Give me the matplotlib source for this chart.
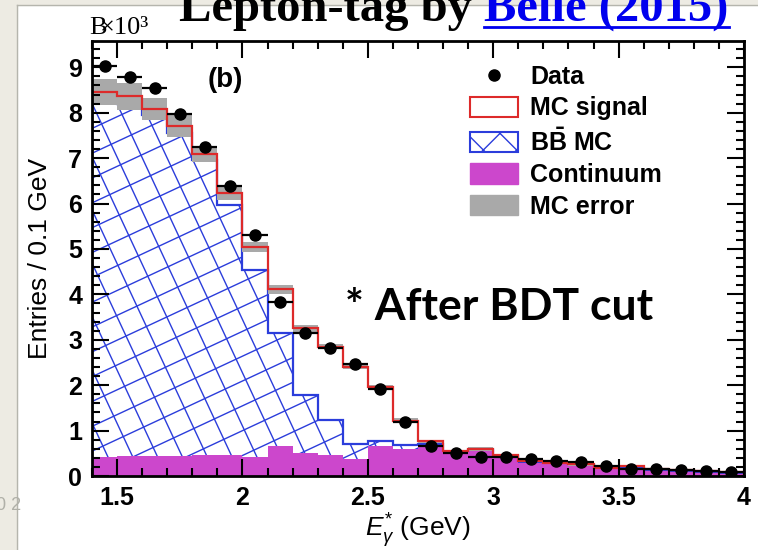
import numpy as np
import matplotlib
matplotlib.use('Agg')
import matplotlib.pyplot as plt
from matplotlib.patches import Patch, Rectangle
from matplotlib.lines import Line2D
from matplotlib.collections import LineCollection
from matplotlib.ticker import MultipleLocator, FuncFormatter

plt.rcParams['font.family'] = ['Liberation Sans', 'DejaVu Sans']
plt.rcParams['mathtext.fontset'] = 'custom'
plt.rcParams['mathtext.rm'] = 'Liberation Sans'
plt.rcParams['mathtext.it'] = 'Liberation Sans:italic'
plt.rcParams['mathtext.bf'] = 'Liberation Sans:bold'

# bin edges of E*_gamma (GeV), 0.1 GeV bins
edges = np.array([1.4, 1.5, 1.6, 1.7, 1.8, 1.9, 2.0, 2.1, 2.2, 2.3, 2.4, 2.5, 2.6, 2.7,
                  2.8, 2.9, 3.0, 3.1, 3.2, 3.3, 3.4, 3.5, 3.6, 3.7, 3.8, 3.9, 4.0])
# entries in units of 10^3
data = [9.04, 8.78, 8.55, 7.97, 7.25, 6.39, 5.31, 3.84, 3.14, 2.81, 2.46, 1.91, 1.20,
        0.65, 0.50, 0.41, 0.41, 0.37, 0.34, 0.30, 0.21, 0.16, 0.15, 0.13, 0.10, 0.08]
mc_total = [8.46, 8.36, 8.08, 7.71, 7.09, 6.23, 5.05, 4.11, 3.25, 2.85, 2.41, 1.95, 1.22,
            0.76, 0.54, 0.59, 0.46, 0.34, 0.29, 0.26, 0.17, 0.22, 0.15, 0.13, 0.11, 0.08]
bb_stack = [8.30, 8.20, 7.95, 7.55, 6.95, 5.97, 4.54, 3.14, 1.78, 1.23, 0.70, 0.78, 0.68,
            0.70, 0.52, 0.57, 0.43, 0.31, 0.27, 0.25, 0.16, 0.17, 0.12, 0.10, 0.08, 0.05]
continuum = [0.41, 0.45, 0.43, 0.44, 0.46, 0.46, 0.41, 0.65, 0.51, 0.46, 0.37, 0.65, 0.59,
             0.63, 0.50, 0.54, 0.39, 0.28, 0.26, 0.24, 0.15, 0.13, 0.10, 0.08, 0.07, 0.04]
mc_err = [0.28, 0.30, 0.24, 0.24, 0.17, 0.15, 0.11, 0.10, 0.08, 0.06, 0.06, 0.05, 0.05,
          0.04, 0.04, 0.04, 0.03, 0.03, 0.03, 0.03, 0.02, 0.02, 0.02, 0.02, 0.02, 0.02]

red = '#dd2a2a'
blue = '#2b3ddb'
magenta = '#cc47cc'
gray = '#a9a9a9'
beige = '#edebe3'

W, H = 758, 550
fig = plt.figure(figsize=(7.58, 5.5), dpi=100)

def fx(px):
    return px / W

def fy(py):
    return 1 - py / H

# screenshot border of the slide
fig.add_artist(Rectangle((0, 0), fx(17), 1, transform=fig.transFigure, color=beige, zorder=-5))
fig.add_artist(Rectangle((0, fy(5)), 1, 1 - fy(5), transform=fig.transFigure, color=beige, zorder=-5))
fig.add_artist(Line2D([fx(17), fx(17)], [0, fy(5)], transform=fig.transFigure, color='#b5b5ad', lw=1))
fig.add_artist(Line2D([fx(17), 1], [fy(5), fy(5)], transform=fig.transFigure, color='#b5b5ad', lw=1))
fig.text(fx(-4), fy(506), '0 2', color='#b0b0a8', fontsize=13, va='center')

ax = fig.add_axes([fx(92), fy(476), (744 - 92) / W, (476 - 41) / H])
centers = (edges[:-1] + edges[1:]) / 2

# B Bbar MC: white region with rotated cross hatch
bb_patch = ax.stairs(bb_stack, edges, baseline=0, fill=True, facecolor='white', edgecolor='none', zorder=1)
aw, ah = 652.0, 435.0
segs = []
for ang in (25, -65):
    a = np.radians(ang)
    d = np.array([np.cos(a), np.sin(a)])
    n = np.array([-np.sin(a), np.cos(a)])
    for c in np.arange(-900, 900, 22.5):
        p0 = c * n - 1000 * d
        p1 = c * n + 1000 * d
        segs.append([(p0[0] / aw, p0[1] / ah), (p1[0] / aw, p1[1] / ah)])
hatch = LineCollection(segs, colors=blue, linewidths=1.0, transform=ax.transAxes, zorder=1.1)
ax.add_collection(hatch)
hatch.set_clip_path(bb_patch)
ax.stairs(bb_stack, edges, baseline=0, color=blue, lw=1.6, zorder=1.3)

ax.stairs(continuum, edges, baseline=0, fill=True, color=magenta, zorder=1.5)
ax.stairs(np.array(mc_total) + np.array(mc_err), edges, baseline=np.array(mc_total) - np.array(mc_err),
          fill=True, color=gray, zorder=1.7)
ax.stairs(mc_total, edges, baseline=0, color=red, lw=1.6, zorder=1.9)
ax.errorbar(centers, data, xerr=0.05, fmt='o', color='black', ms=8, elinewidth=1.6, capsize=0, zorder=2.2)

ax.set_xlim(1.4, 4.0)
ax.set_ylim(0, 9.58)
ax.xaxis.set_major_locator(MultipleLocator(0.5))
ax.xaxis.set_minor_locator(MultipleLocator(0.1))
ax.yaxis.set_major_locator(MultipleLocator(1))
ax.yaxis.set_minor_locator(MultipleLocator(0.2))
ax.xaxis.set_major_formatter(FuncFormatter(lambda v, p: '%g' % v))
ax.tick_params(which='both', direction='in', top=True, right=True, width=1.5, colors='black')
ax.tick_params(which='major', length=12)
ax.tick_params(which='minor', length=6)
ax.tick_params(axis='x', which='major', labelsize=18, pad=7)
ax.tick_params(axis='y', which='major', labelsize=18, pad=7)
for lab in ax.get_xticklabels() + ax.get_yticklabels():
    lab.set_fontweight('bold')
for sp in ax.spines.values():
    sp.set_linewidth(2)
    sp.set_zorder(10)
ax.xaxis.set_zorder(10)
ax.yaxis.set_zorder(10)

ax.set_xlabel(r'$E_{\gamma}^{*}$ (GeV)', fontsize=19)
ax.xaxis.set_label_coords(0.5, -0.08)
ax.set_ylabel('Entries / 0.1 GeV', fontsize=19)
ax.yaxis.set_label_coords(-0.062, 0.5)

handles = [Line2D([], [], marker='o', ls='none', color='black', ms=8),
           Patch(facecolor='white', edgecolor=red, lw=1.5),
           Patch(facecolor='white', edgecolor=blue, hatch='x', lw=1.5),
           Patch(facecolor=magenta, edgecolor=magenta),
           Patch(facecolor=gray, edgecolor=gray)]
labels = ['Data', 'MC signal', r'B$\mathbf{\bar{B}}$ MC', 'Continuum', 'MC error']
ax.legend(handles, labels, loc='upper left', bbox_to_anchor=((470 - 92) / aw, (476 - 65) / ah),
          frameon=False, prop={'weight': 'bold', 'size': 18}, handlelength=1.9, handleheight=0.9,
          labelspacing=0.3, handletextpad=0.5, borderpad=0, borderaxespad=0)

ax.text((208 - 92) / aw, (476 - 80) / ah, '(b)', transform=ax.transAxes, fontsize=20,
        fontweight='bold', va='center', ha='left')
ax.text((345 - 92) / aw, (476 - 320) / ah, '* After BDT cut', transform=ax.transAxes,
        fontsize=32, fontweight='bold', family='Lato', va='baseline', ha='left', zorder=5)

# ROOT exponent label
fig.text(fx(89), fy(34), 'B', family='Liberation Serif', fontsize=19, va='baseline')
fig.text(fx(100), fy(34), '\u00d710\u00b3', family='Liberation Serif', fontsize=19, va='baseline')

# slide title, cut at the top
t1 = fig.text(fx(179), fy(21), 'Lepton-tag by ', family='Liberation Serif', fontweight='bold',
              fontsize=35, va='baseline', color='black')
fig.canvas.draw()
bb = t1.get_window_extent()
t2 = fig.text(bb.x1 / W, fy(21), 'Belle (2015)', family='Liberation Serif', fontweight='bold',
              fontsize=35, va='baseline', color='#0000ee')
fig.canvas.draw()
bb2 = t2.get_window_extent()
fig.add_artist(Line2D([bb2.x0 / W, bb2.x1 / W], [fy(27), fy(27)], transform=fig.transFigure,
                      color='#0000ee', lw=2))

fig.savefig('out.png', dpi=100)
